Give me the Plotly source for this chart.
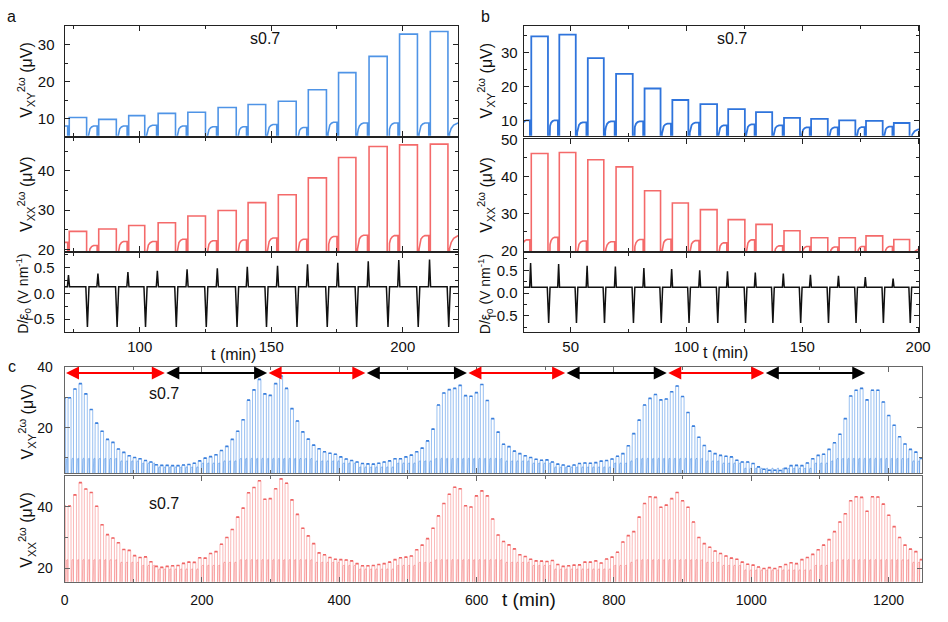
import plotly.graph_objects as go

W, H = 948, 622
FONT = "Arial, Liberation Sans, sans-serif"

# ---------------- Panel a data ----------------
A_NEG_T = [68.7, 80.1, 91.4, 102.2, 113.9, 125.3, 137.0, 148.2, 159.8, 171.3, 182.5, 194.4, 205.9, 217.5]
A_POS_T = [72.9, 84.1, 95.5, 106.7, 118.0, 129.5, 140.9, 152.4, 163.8, 175.3, 186.9, 198.5, 210.2]
A_XY_HIGH = [10.3, 9.8, 10.8, 11.4, 11.7, 13.0, 13.8, 14.7, 17.8, 22.4, 26.8, 32.8, 33.5]
A_XY_BUMP = [8.0, 8.0, 8.0, 8.2, 8.0, 7.8, 7.8, 8.4, 7.6, 9.0, 8.8, 8.8, 8.8, 9.0]
A_XX_HIGH = [24.6, 25.2, 26.1, 26.8, 28.5, 29.9, 31.9, 33.9, 38.2, 43.4, 46.2, 46.6, 46.8]
A_XX_BUMP = [21.8, 21.0, 22.0, 22.0, 22.6, 22.2, 22.4, 22.9, 22.6, 23.3, 23.6, 23.5, 23.5, 23.7]
A_D_PEAK = [0.36, 0.39, 0.42, 0.44, 0.47, 0.49, 0.52, 0.54, 0.57, 0.60, 0.63, 0.65, 0.66]

# ---------------- Panel b data ----------------
B_NEG_T = [28.4, 40.5, 52.5, 64.6, 77.1, 89.1, 101.1, 113.5, 125.5, 137.3, 149.3, 161.3, 173.2, 185.0, 196.6]
B_POS_T = [32.7, 44.8, 57.1, 69.3, 81.6, 93.6, 105.7, 117.7, 129.7, 141.8, 153.5, 165.6, 177.2, 189.2]
B_XY_HIGH = [34.8, 35.3, 28.4, 23.7, 19.4, 16.0, 14.8, 13.3, 12.4, 10.7, 10.4, 10.0, 9.8, 9.2]
B_XY_BUMP = [10.0, 10.0, 9.4, 9.7, 9.7, 9.0, 9.3, 8.5, 8.8, 8.5, 7.9, 7.9, 8.0, 8.1, 7.5]
B_XX_HIGH = [46.2, 46.5, 44.5, 42.6, 36.1, 32.8, 31.0, 28.3, 27.0, 25.3, 23.4, 23.4, 23.9, 22.9]
B_XX_BUMP = [22.8, 23.5, 22.5, 22.3, 22.9, 23.0, 22.6, 22.0, 22.8, 21.2, 21.0, 20.9, 21.0, 21.0, 20.5]
B_D_PEAK = [0.66, 0.64, 0.60, 0.58, 0.55, 0.53, 0.50, 0.48, 0.45, 0.43, 0.40, 0.38, 0.35, 0.32]

D_BASE = 0.13
D_NEG = -0.65

# ---------------- Panel c data ----------------
C_START, C_PERIOD, C_ON = -3.0, 7.9, 4.8
C_XY_HIGH = [
    29.8, 29.9, 32.8, 34.6, 31.2, 26.0, 21.5, 18.8, 16.1, 15.1, 12.9, 11.8, 10.7, 10.1, 9.7, 9.1, 8.6, 7.7, 7.5,
    7.5, 7.4, 7.4, 7.6, 7.8, 8.2, 9.0, 9.9, 10.4, 11.0, 12.4, 13.8, 16.1, 18.8, 22.6, 29.1, 32.5, 36.0, 31.2, 30.7, 34.6, 37.1,
    33.0, 26.3, 22.2, 18.6, 16.2, 14.2, 13.0, 12.0, 11.5, 11.2, 10.3, 9.6, 9.1, 8.6, 8.1, 8.0, 7.9, 8.2, 8.6, 9.0, 9.7, 9.7, 10.3, 10.9, 12.0, 13.2,
    15.6, 19.5, 27.5, 31.5, 32.6, 33.0, 34.0, 30.6, 30.4, 31.6, 34.3,
    29.0, 23.0, 18.5, 14.5, 13.7, 12.2, 11.4, 10.7, 10.1, 9.5, 9.2, 9.3, 8.6, 7.9, 7.6, 7.2, 7.6, 8.1, 8.3, 8.2, 8.4, 8.9, 9.1, 9.6,
    10.5, 11.4, 14.0, 18.0, 22.5, 27.5, 29.7, 31.0, 29.2, 29.5, 31.9, 33.8, 30.3,
    25.0, 20.5, 16.8, 14.1, 12.2, 11.4, 10.8, 10.5, 10.3, 9.2, 8.6, 8.6, 8.1, 7.0, 6.2, 5.9, 5.9, 5.8, 6.5, 7.4, 7.5, 7.4,
    8.3, 9.7, 10.8, 11.2, 12.8, 15.0, 17.8, 23.0, 30.5, 32.4, 33.0, 29.2, 32.4, 32.4, 28.5, 24.0, 20.8, 17.0, 14.6, 12.8, 11.9, 9.8,
]
C_XX_HIGH = [
    40.2, 40.2, 43.8, 47.8, 45.7, 44.6, 40.1, 34.1, 30.9, 29.8, 28.3, 26.1, 25.8, 24.1, 23.5, 23.7, 22.1, 20.6, 20.3,
    20.6, 20.8, 20.9, 21.6, 22.0, 21.9, 23.4, 23.3, 24.8, 25.4, 27.8, 30.0, 32.6, 36.6, 39.5, 44.5, 46.2, 48.4, 42.4, 42.6, 45.8, 49.0,
    47.6, 42.2, 37.5, 33.0, 30.5, 28.0, 25.0, 24.4, 23.5, 22.9, 22.8, 22.7, 22.4, 21.5, 20.8, 20.8, 20.9, 21.2, 21.5, 22.0, 22.8, 23.4, 23.6, 24.0, 26.0, 27.5,
    29.6, 33.0, 37.0, 41.0, 44.0, 46.3, 45.8, 40.3, 39.9, 43.5, 45.1,
    43.5, 36.0, 30.8, 28.7, 27.6, 26.3, 24.4, 23.8, 22.9, 22.4, 22.3, 22.2, 22.5, 21.2, 20.6, 20.8, 21.0, 21.1, 22.0, 22.0, 22.4, 21.7, 23.0, 23.6,
    25.2, 28.5, 30.6, 31.9, 36.6, 41.0, 43.2, 43.0, 39.8, 40.5, 42.6, 44.6, 41.9,
    39.8, 35.0, 30.0, 28.0, 26.8, 25.6, 24.8, 24.0, 23.3, 22.9, 22.0, 21.3, 21.0, 20.4, 19.9, 20.2, 19.9, 20.5, 21.2, 21.8, 21.5, 22.8,
    23.5, 24.5, 26.0, 27.5, 29.3, 31.9, 35.0, 37.7, 41.9, 43.2, 43.0, 38.5, 43.2, 43.1, 40.8, 37.2, 33.5, 30.0, 27.5, 26.2, 25.4, 22.8,
]
# bump (between pulses) levels, as runs: (count, XY level, XX level)
C_BUMP_RUNS = [
    (11, 9.8, 22.8), (4, 9.0, 22.0), (3, 8.3, 21.0), (8, 7.0, 19.8), (4, 8.3, 21.0), (3, 9.0, 22.0),
    (14, 9.8, 22.8), (5, 9.0, 22.0), (3, 8.3, 21.0), (7, 7.0, 19.8), (4, 8.3, 21.0), (3, 9.0, 22.0),
    (13, 9.8, 22.8), (5, 9.0, 22.0), (4, 8.3, 21.0), (11, 7.0, 19.8), (3, 8.3, 21.0), (1, 9.0, 22.0),
    (13, 9.8, 22.8), (3, 9.0, 22.0), (4, 8.3, 21.0), (13, 6.6, 19.5), (3, 8.3, 21.0), (1, 9.0, 22.0),
    (14, 9.8, 22.8), (2, 9.0, 22.0), (1, 8.3, 21.0),
]
ARROW_BOUNDS = [0, 146, 295, 438, 586, 729, 877, 1019, 1166]
ARROW_COLORS = ["#ff0000", "#000000"]
ARROW_Y = 38.1

# ---------------- helpers ----------------
BUMP_SHAPE = [(0.0, 1.0), (0.08, 0.55), (0.2, 0.25), (0.38, 0.08), (0.6, 0.0), (1.0, 0.0)]


def wave(neg_t, pos_t, high, bump, low, t_end, drop, g=0.3):
    xs, ys, tx, ty = [], [], [], []
    n = len(neg_t)
    for i in range(n):
        tn = neg_t[i]
        has_pos = i < len(pos_t)
        t_next = pos_t[i] if has_pos else t_end
        t0, t1 = tn + g, t_next - g
        xs += [tn - g, tn + g]
        ys += [low, low]
        for f, d in BUMP_SHAPE:
            xs.append(t0 + f * (t1 - t0))
            ys.append(bump[i] - drop * d)
        xs.append(t1)
        ys.append(low)
        if has_pos:
            t2 = (neg_t[i + 1] if i + 1 < n else t_end) - g
            xs += [t_next + g, t_next + g, t2]
            ys += [low, high[i], high[i]]
            tx += [t_next + g, t2, None]
            ty += [high[i], high[i], None]
    return xs, ys, tx, ty


def dwave(neg_t, pos_t, peaks, t_start, t_end):
    ev = [(t, D_NEG, 0.6) for t in neg_t] + [(t, peaks[i], 0.4) for i, t in enumerate(pos_t)]
    ev.sort()
    xs, ys = [t_start], [D_BASE]
    for t, v, w in ev:
        xs += [t - w, t, t + w]
        ys += [D_BASE, v, D_BASE]
    xs.append(t_end)
    ys.append(D_BASE)
    return xs, ys


fig = go.Figure()


def line(x, y, n, color, width):
    fig.add_trace(go.Scatter(x=x, y=y, mode="lines", xaxis=f"x{n}", yaxis=f"y{n}",
                             line=dict(color=color, width=width), hoverinfo="skip"))


# panel a
xs, ys, _, _ = wave(A_NEG_T, A_POS_T, A_XY_HIGH, A_XY_BUMP, 0.0, 226, 3.0)
line(xs, ys, 1, "#4f94e6", 1.6)
xs, ys, _, _ = wave(A_NEG_T, A_POS_T, A_XX_HIGH, A_XX_BUMP, 10.0, 226, 3.5)
line(xs, ys, 2, "#f46a6a", 1.6)
xs, ys = dwave(A_NEG_T, A_POS_T, A_D_PEAK, 60, 226)
line(xs, ys, 3, "#111111", 1.5)

# panel b
xs, ys, _, _ = wave(B_NEG_T, B_POS_T, B_XY_HIGH, B_XY_BUMP, 0.0, 205, 3.0)
line(xs, ys, 4, "#2f74dc", 1.8)
xs, ys, _, _ = wave(B_NEG_T, B_POS_T, B_XX_HIGH, B_XX_BUMP, 10.0, 205, 3.5)
line(xs, ys, 5, "#f46a6a", 1.6)
xs, ys = dwave(B_NEG_T, B_POS_T, B_D_PEAK, 20, 205)
line(xs, ys, 6, "#111111", 1.5)

# panel c
c_pos = [C_START + k * C_PERIOD for k in range(len(C_XY_HIGH))]
c_neg = [c_pos[0] - (C_PERIOD - C_ON)] + [t + C_ON for t in c_pos]
c_bxy, c_bxx = [], []
for cnt, vxy, vxx in C_BUMP_RUNS:
    c_bxy += [vxy] * cnt
    c_bxx += [vxx] * cnt
xs, ys, tx, ty = wave(c_neg, c_pos, C_XY_HIGH, c_bxy, 0.0, 1260, 1.5, g=0.25)
line(xs, ys, 7, "rgba(70,140,230,0.55)", 1)
line(tx, ty, 7, "#3a7fdc", 1.6)
xs, ys, tx, ty = wave(c_neg, c_pos, C_XX_HIGH, c_bxx, 10.0, 1260, 1.5, g=0.25)
line(xs, ys, 8, "rgba(245,100,100,0.45)", 1)
line(tx, ty, 8, "#ef6565", 1.6)


# ---------------- axes ----------------
def fx(p):
    return p / W


def fy(p):
    return 1 - p / H


PANELS = {
    1: dict(xd=(61.5, 461.5), yd=(18, 131), xr=[71.4, 221.1], yr=[5.35, 35.1], xdt=50, xmn=25, ydt=10, ymn=5, xl=False),
    2: dict(xd=(61.5, 461.5), yd=(133, 249), xr=[71.4, 221.1], yr=[19.6, 48.4], xdt=50, xmn=25, ydt=10, ymn=5, xl=False),
    3: dict(xd=(61.5, 461.5), yd=(251, 332), xr=[71.4, 221.1], yr=[-0.75, 0.79], xdt=50, xmn=25, ydt=0.5, ymn=0.25, xl=True),
    4: dict(xd=(528, 930), yd=(18, 131), xr=[29.7, 200.5], yr=[5.4, 38.0], xdt=50, xmn=25, ydt=10, ymn=5, xl=False),
    5: dict(xd=(528, 930), yd=(134, 249), xr=[29.7, 200.5], yr=[19.8, 50.2], xdt=50, xmn=25, ydt=10, ymn=5, xl=False),
    6: dict(xd=(528, 930), yd=(251, 332), xr=[29.7, 200.5], yr=[-0.85, 0.88], xdt=50, xmn=25, ydt=0.5, ymn=0.25, xl=True),
    7: dict(xd=(61.5, 933), yd=(368, 477), xr=[0, 1249], yr=[4.8, 40.05], xdt=200, xmn=100, ydt=20, ymn=10, xl=False),
    8: dict(xd=(61.5, 933), yd=(480, 588), xr=[0, 1249], yr=[15.6, 49.8], xdt=200, xmn=100, ydt=20, ymn=10, xl=True),
}

layout = dict(width=W, height=H, margin=dict(l=0, r=0, t=0, b=0), paper_bgcolor="white",
              plot_bgcolor="white", showlegend=False, font=dict(family=FONT, color="#111"))

for n, p in PANELS.items():
    is_c = n >= 7
    lc = "#666666" if is_c else "#222222"
    fs = 14 if is_c else 15
    common = dict(showline=True, linecolor=lc, linewidth=1, mirror="allticks", ticks="inside",
                  ticklen=5, tickwidth=1, tickcolor=lc, showgrid=False, zeroline=False,
                  tickfont=dict(family=FONT, size=fs, color="#111"), tick0=0)
    xa = dict(common, domain=[fx(p["xd"][0]), fx(p["xd"][1])], range=p["xr"], anchor=f"y{n}",
              dtick=p["xdt"], showticklabels=p["xl"],
              minor=dict(dtick=p["xmn"], ticks="inside", ticklen=3, tickcolor=lc))
    ya = dict(common, domain=[fy(p["yd"][1]), fy(p["yd"][0])], range=p["yr"], anchor=f"x{n}",
              dtick=p["ydt"], minor=dict(dtick=p["ymn"], ticks="inside", ticklen=3, tickcolor=lc))
    if n in (3, 6):
        ya["tickformat"] = ".1f"
    if n == 8:
        xa["ticklabelstandoff"] = 5
    if n in (3, 6):
        xa["ticklabelstandoff"] = 1
    ya["ticklabelstandoff"] = 8 if is_c else (6 if n <= 3 else 2)
    layout["xaxis" if n == 1 else f"xaxis{n}"] = xa
    layout["yaxis" if n == 1 else f"yaxis{n}"] = ya

ann = []


def text(px, py, s, size, angle=0):
    ann.append(dict(x=fx(px), y=fy(py), xref="paper", yref="paper", text=s, showarrow=False,
                    textangle=angle, xanchor="center", yanchor="middle",
                    font=dict(family=FONT, size=size, color="#111")))


VXY = "V<sub>XY</sub><sup>2ω</sup> (μV)"
VXX = "V<sub>XX</sub><sup>2ω</sup> (μV)"
DT = "D/ε<sub>0</sub> (V nm<sup>-1</sup>)"

text(8, 9, "a", 16)
text(489, 9, "b", 16)
text(8, 367, "c", 16)
text(265, 31, "s0.7", 16)
text(740, 31, "s0.7", 16)
text(163, 395, "s0.7", 16)
text(163, 508, "s0.7", 16)
text(233, 355, "t (min)", 16)
text(733, 353, "t (min)", 16)
text(533, 606, "t (min)", 19)
text(23, 74, VXY, 16, -90)
text(23, 191, VXX, 16, -90)
text(19, 293, DT, 14, -90)
text(490, 74, VXY, 16, -90)
text(490, 191, VXX, 16, -90)
text(489, 293, DT, 14, -90)
text(23, 424, VXY, 16, -90)
text(23, 535, VXX, 16, -90)

for i in range(len(ARROW_BOUNDS) - 1):
    ann.append(dict(x=ARROW_BOUNDS[i + 1], y=ARROW_Y, ax=ARROW_BOUNDS[i], ay=ARROW_Y,
                    xref="x7", yref="y7", axref="x7", ayref="y7", text="", showarrow=True,
                    arrowhead=2, startarrowhead=2, arrowside="end+start", arrowsize=1.3,
                    startarrowsize=1.3, arrowwidth=2, arrowcolor=ARROW_COLORS[i % 2]))

layout["annotations"] = ann
fig.update_layout(**layout)
fig.write_html("out.html")
